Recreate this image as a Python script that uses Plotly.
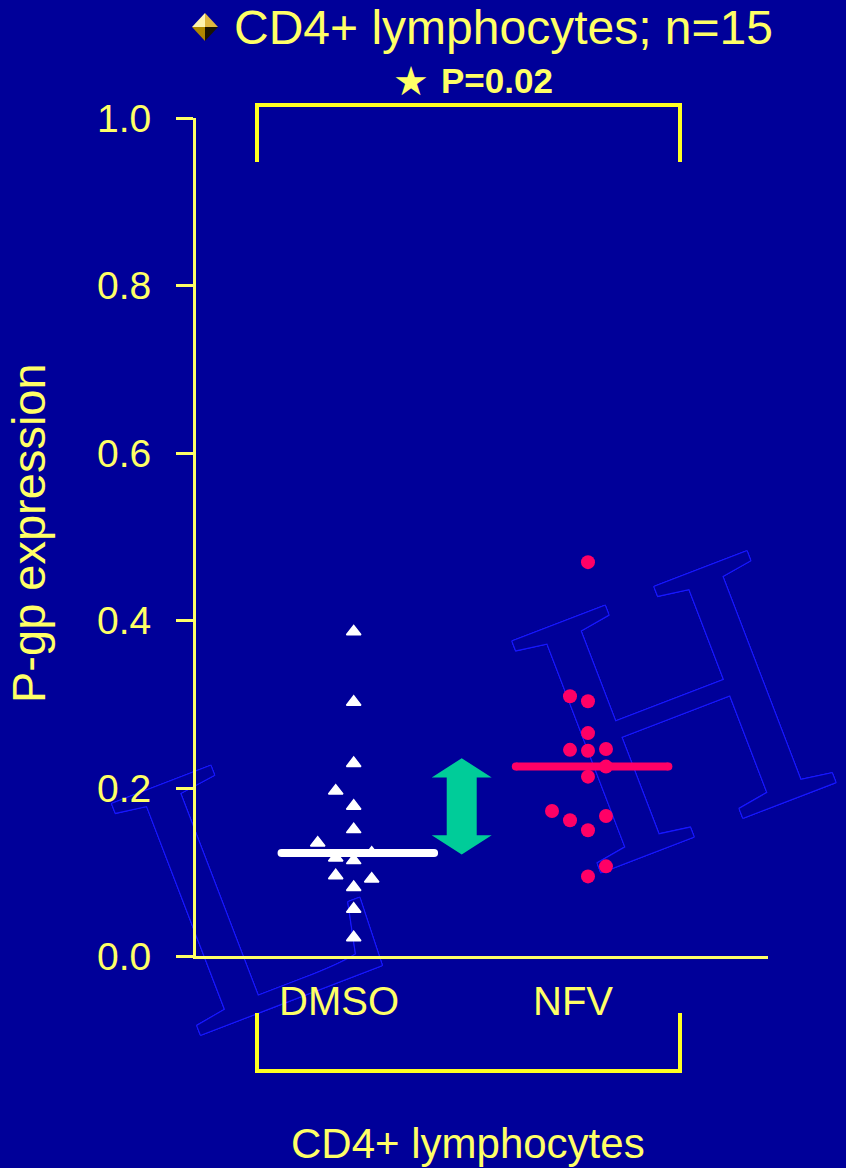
import numpy as np
import plotly.graph_objects as go

# ---------------- data ----------------
categories = ["DMSO", "NFV"]
dmso_values = [0.387, 0.303, 0.230, 0.197, 0.179, 0.151, 0.135, 0.123,
               0.117, 0.114, 0.096, 0.092, 0.082, 0.056, 0.022]
dmso_slots = [0, 0, 0, -1, 0, 0, -2, 1, -1, 0, -1, 1, 0, 0, 0]
nfv_values = [0.470, 0.310, 0.304, 0.266, 0.246, 0.245, 0.247, 0.226,
              0.214, 0.173, 0.162, 0.167, 0.150, 0.107, 0.095]
nfv_slots = [0, -1, 0, 0, -1, 0, 1, 1, 0, -2, -1, 1, 0, 1, 0]
y_ticks = [0.0, 0.2, 0.4, 0.6, 0.8, 1.0]
title_text = "CD4+ lymphocytes; n=15"
p_text = "P=0.02"
y_title = "P-gp expression"
x_title = "CD4+ lymphocytes"
watermark = ["L", "H"]

# ---------------- style ----------------
BG = "#000099"
YEL = "#FFFF66"
BRK = "#FFFF22"
FONT = "Liberation Sans, Arial, sans-serif"
SLOT_W = 0.0768
W, H = 846, 1168
L_M, R_M, T_M, B_M = 196, 78, 118, 212
PW, PH = W - L_M - R_M, H - T_M - B_M


def px_x(x):
    return (x - L_M) / PW


def px_y(y):
    return (H - B_M - y) / PH


fig = go.Figure()

series = [
    (dmso_values, dmso_slots, "white", "triangle-up", 12.5, 1.5),
    (nfv_values, nfv_slots, "#FF0066", "circle", 14, 0),
]
for i, (vals, slots, col, sym, size, lw) in enumerate(series):
    cx = i + 1
    med = float(np.median(vals))
    fig.add_trace(go.Scatter(
        x=[cx - 0.308, cx + 0.343], y=[med, med], mode="lines+markers",
        line=dict(color=col, width=8),
        marker=dict(symbol="circle", size=8, color=col, line=dict(width=0)),
        hoverinfo="skip", showlegend=False))
    fig.add_trace(go.Scatter(
        x=[cx + s * SLOT_W for s in slots], y=vals, mode="markers",
        marker=dict(symbol=sym, size=size, color=col,
                    line=dict(color=col, width=lw)),
        cliponaxis=False, showlegend=False, name=categories[i]))

# double arrow between medians
m1 = float(np.median(dmso_values))
m2 = float(np.median(nfv_values))
ax_c, hw, sw, hh = 1.461, 0.128, 0.064, 0.023
top, bot = m2 + 0.010, m1 - 0.002
path = (f"M{ax_c},{top} L{ax_c+hw},{top-hh} L{ax_c+sw},{top-hh} "
        f"L{ax_c+sw},{bot+hh} L{ax_c+hw},{bot+hh} L{ax_c},{bot} "
        f"L{ax_c-hw},{bot+hh} L{ax_c-sw},{bot+hh} L{ax_c-sw},{top-hh} "
        f"L{ax_c-hw},{top-hh} Z")
shapes = [dict(type="path", path=path, xref="x", yref="y",
               fillcolor="#00CC99", line=dict(width=0))]

# brackets
for (ya, yb) in [(px_y(105), px_y(162)), (px_y(1071), px_y(1013))]:
    xa, xb = px_x(257), px_x(680)
    shapes.append(dict(type="path", xref="paper", yref="paper",
                       path=f"M{xa},{yb} L{xa},{ya} L{xb},{ya} L{xb},{yb}",
                       line=dict(color=BRK, width=4)))

# bullet diamond
dcx, dcy = px_x(205), px_y(27)
dw, dh = 13 / PW, 14 / PH
for pts, c in [((dcx - dw, dcy), "#FFF4B0"), ((dcx + dw, dcy), "#E0B840")]:
    shapes.append(dict(type="path", xref="paper", yref="paper",
                       path=f"M{dcx},{dcy+dh} L{pts[0]},{pts[1]} L{dcx},{dcy} Z",
                       fillcolor=c, line=dict(width=0)))
for pts, c in [((dcx - dw, dcy), "#B08800"), ((dcx + dw, dcy), "#1A1400")]:
    shapes.append(dict(type="path", xref="paper", yref="paper",
                       path=f"M{dcx},{dcy-dh} L{pts[0]},{pts[1]} L{dcx},{dcy} Z",
                       fillcolor=c, line=dict(width=0)))

# watermark letters (outlined), below everything
OUT = "#1818FF"
shadow = ", ".join(f"{a}px {b}px 0 {OUT}" for a, b in
                   [(1, 0), (-1, 0), (0, 1), (0, -1), (1, 1), (-1, -1), (1, -1), (-1, 1)])
for ch, (cx, cy) in zip(watermark, [(238, 840), (658, 670)]):
    x0, y0 = px_x(cx), px_y(cy)
    shapes.append(dict(type="rect", xref="paper", yref="paper", layer="below",
                       x0=x0 - 0.001, x1=x0 + 0.001, y0=y0 - 0.001, y1=y0 + 0.001,
                       line=dict(width=0), fillcolor="rgba(0,0,0,0)",
                       label=dict(text=ch, textangle=-21, textposition="middle center",
                                  font=dict(family="Liberation Serif", size=378,
                                            color=BG, shadow=shadow))))

annotations = [
    dict(text=title_text, x=px_x(503), y=px_y(27.5), xref="paper", yref="paper",
         showarrow=False, font=dict(family=FONT, size=48, color=YEL),
         xanchor="center", yanchor="middle"),
    dict(text="★", x=px_x(411), y=px_y(81), xref="paper", yref="paper",
         showarrow=False, font=dict(family="DejaVu Sans", size=40, color=YEL),
         xanchor="center", yanchor="middle"),
    dict(text=f"<b>{p_text}</b>", x=px_x(497), y=px_y(80.5), xref="paper", yref="paper",
         showarrow=False, font=dict(family=FONT, size=35, color=YEL),
         xanchor="center", yanchor="middle"),
    dict(text=y_title, x=px_x(28), y=px_y(533), xref="paper", yref="paper",
         showarrow=False, textangle=-90, font=dict(family=FONT, size=47, color=YEL),
         xanchor="center", yanchor="middle"),
    dict(text=x_title, x=px_x(468), y=px_y(1143), xref="paper", yref="paper",
         showarrow=False, font=dict(family=FONT, size=42, color=YEL),
         xanchor="center", yanchor="middle"),
]
for i, cat in enumerate(categories):
    annotations.append(dict(text=cat, x=i + 1 - 0.064, y=px_y(1001), xref="x", yref="paper",
                            showarrow=False, font=dict(family=FONT, size=40, color=YEL),
                            xanchor="center", yanchor="middle"))

fig.update_layout(
    width=W, height=H, autosize=False,
    margin=dict(l=L_M, r=R_M, t=T_M, b=B_M, pad=0),
    paper_bgcolor=BG, plot_bgcolor="rgba(0,0,0,0)",
    showlegend=False,
    shapes=shapes, annotations=annotations,
    xaxis=dict(range=[0.3269, 2.7683], showline=True, linecolor=YEL, linewidth=3,
               showticklabels=False, ticks="", showgrid=False, zeroline=False),
    yaxis=dict(range=[0, 1], tickvals=y_ticks, ticktext=[f"{v:.1f}" for v in y_ticks],
               ticks="outside", ticklen=17, tickwidth=3, tickcolor=YEL,
               showline=True, linecolor=YEL, linewidth=3, ticklabelstandoff=17,
               tickfont=dict(family=FONT, size=39, color=YEL),
               showgrid=False, zeroline=False),
)

fig.write_html("out.html",
               config={"displayModeBar": False},
               post_script="document.body.style.margin='0px';"
                           "document.body.style.overflow='hidden';")
